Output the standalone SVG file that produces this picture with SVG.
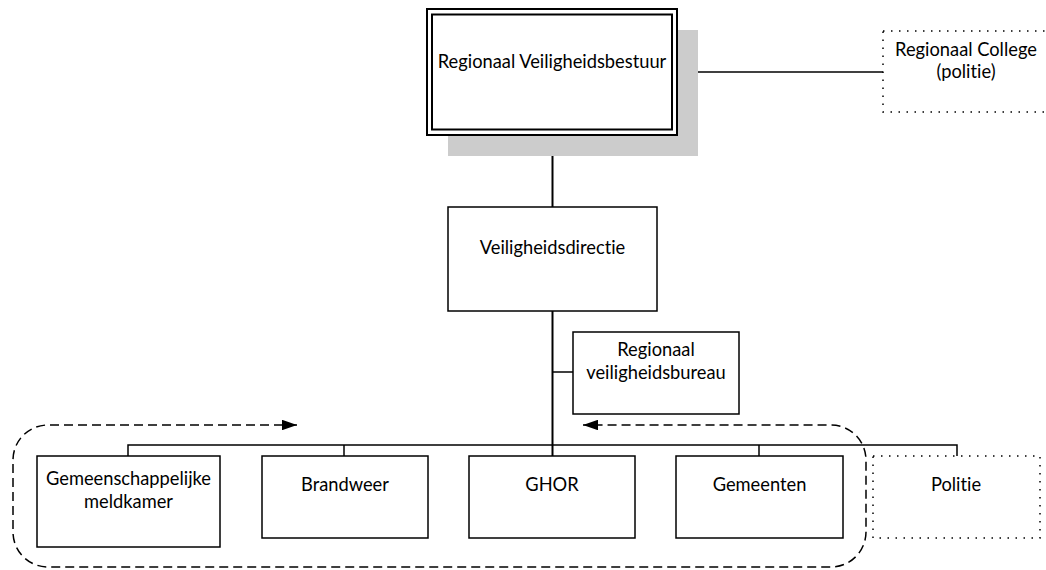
<svg xmlns="http://www.w3.org/2000/svg" width="1046" height="570" viewBox="0 0 1046 570">
<style>
.box{fill:#fff;stroke:#000;stroke-width:1.5}
.dot{fill:#fff;stroke:#000;stroke-width:1.5;stroke-dasharray:1.5 6.5}
.ln{fill:none;stroke:#000;stroke-width:1.5}
.dash{fill:none;stroke:#000;stroke-width:1.5;stroke-dasharray:9 5}
text{font-family:Lato,"Open Sans",sans-serif;font-size:18.3px;fill:#000;text-anchor:middle;font-variant-ligatures:none}
</style>
<defs>
<marker id="ah" viewBox="0 0 10 10" refX="10" refY="5" markerWidth="10" markerHeight="7" orient="auto-start-reverse" markerUnits="strokeWidth" preserveAspectRatio="none">
<path d="M0,0 L10,5 L0,10 z" fill="#000"/>
</marker>
</defs>
<g id="connectors">
<line class="ln" x1="677" y1="72" x2="883" y2="72"/>
<line class="ln" x1="552.5" y1="135" x2="552.5" y2="207" style="stroke-width:2"/>
<line class="ln" x1="552.5" y1="311" x2="552.5" y2="456" style="stroke-width:2"/>
<line class="ln" x1="552.5" y1="372" x2="573" y2="372"/>
<polyline class="ln" points="128,456 128,445 957,445 957,456"/>
<line class="ln" x1="344" y1="445" x2="344" y2="456"/>
<line class="ln" x1="759" y1="445" x2="759" y2="456"/>
<path class="dash" d="M297 425 H48 A35 35 0 0 0 13 460 V532 A35 35 0 0 0 48 567 H831 A35 35 0 0 0 866 532 V460 A35 35 0 0 0 831 425 H583" marker-start="url(#ah)" marker-end="url(#ah)"/>
</g>
<g id="rvbestuur">
<rect x="448" y="30" width="250" height="126" fill="#cccccc"/>
<rect class="box" x="427" y="9" width="250" height="126" style="stroke-width:2"/>
<rect x="432" y="14.5" width="240" height="115" fill="none" stroke="#000" stroke-width="2"/>
<text x="552" y="68">Regionaal Veiligheidsbestuur</text>
</g>
<g id="college">
<rect class="dot" x="883" y="31" width="168" height="81"/>
<text x="966" y="56">Regionaal College</text>
<text x="966" y="78">(politie)</text>
</g>
<g id="directie">
<rect class="box" x="448" y="207" width="209" height="104"/>
<text x="552.5" y="254">Veiligheidsdirectie</text>
</g>
<g id="bureau">
<rect class="box" x="573" y="332" width="166" height="82"/>
<text x="656" y="356">Regionaal</text>
<text x="656" y="379">veiligheidsbureau</text>
</g>
<g id="meldkamer">
<rect class="box" x="37" y="456" width="183" height="91"/>
<text x="128.5" y="485">Gemeenschappelijke</text>
<text x="128.5" y="508">meldkamer</text>
</g>
<g id="brandweer">
<rect class="box" x="262" y="456" width="166" height="82"/>
<text x="345" y="491">Brandweer</text>
</g>
<g id="ghor">
<rect class="box" x="469" y="456" width="166" height="82"/>
<text x="552" y="491">GHOR</text>
</g>
<g id="gemeenten">
<rect class="box" x="676" y="456" width="167" height="82"/>
<text x="759.5" y="491">Gemeenten</text>
</g>
<g id="politie">
<rect class="dot" x="873" y="456" width="167" height="82"/>
<text x="956" y="491">Politie</text>
</g>
</svg>
